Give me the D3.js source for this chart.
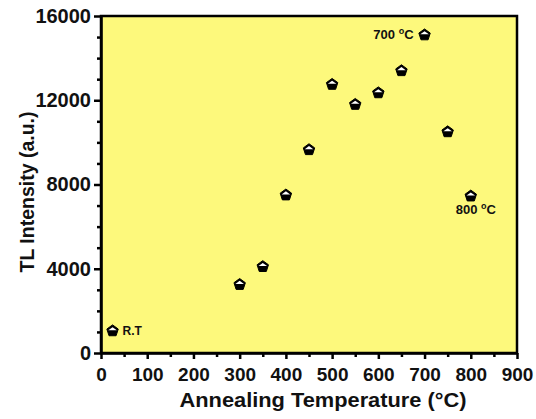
<!DOCTYPE html>
<html>
<head>
<meta charset="utf-8">
<script src="https://cdn.jsdelivr.net/npm/d3@7"></script>
<style>
  body { margin: 0; background: #fff; }
  text { font-family: "Liberation Sans", Arial, sans-serif; font-weight: bold; }
</style>
</head>
<body>
<div id="plot"></div>
<script>
// Data
const temps = [25, 300, 350, 400, 450, 500, 550, 600, 650, 700, 750, 800];
const intensity = [1050, 3250, 4100, 7500, 9650, 12750, 11800, 12350, 13400, 15100, 10500, 7450];
const xTicks = [0, 100, 200, 300, 400, 500, 600, 700, 800, 900];
const yTicks = [0, 4000, 8000, 12000, 16000];

const width = 536, height = 419;
const margin = {top: 16, right: 19, bottom: 66, left: 101};

const svg = d3.select("#plot").append("svg")
  .attr("width", width)
  .attr("height", height);

const x = d3.scaleLinear().domain([0, 900]).range([margin.left, width - margin.right]);
const y = d3.scaleLinear().domain([0, 16000]).range([height - margin.bottom, margin.top]);

// plot background
svg.append("rect")
  .attr("x", x(0)).attr("y", y(16000))
  .attr("width", x(900) - x(0)).attr("height", y(0) - y(16000))
  .attr("fill", "#fdf97c")
  .attr("stroke", "#000").attr("stroke-width", 2.5);

// minor ticks
svg.append("g")
  .attr("transform", "translate(0," + y(0) + ")")
  .call(d3.axisBottom(x).tickValues(d3.range(50, 900, 100)).tickSize(4).tickFormat(""))
  .call(g => g.select(".domain").remove())
  .selectAll("line").attr("stroke-width", 2.5);
svg.append("g")
  .attr("transform", "translate(" + x(0) + ",0)")
  .call(d3.axisLeft(y).tickValues(d3.range(1000, 16000, 1000).filter(d => d % 4000 != 0)).tickSize(4).tickFormat(""))
  .call(g => g.select(".domain").remove())
  .selectAll("line").attr("stroke-width", 2.5);

// major axes
const xAxis = svg.append("g")
  .attr("transform", "translate(0," + y(0) + ")")
  .call(d3.axisBottom(x).tickValues(xTicks).tickSize(6).tickPadding(9).tickSizeOuter(0).tickFormat(d3.format("d")));
const yAxis = svg.append("g")
  .attr("transform", "translate(" + x(0) + ",0)")
  .call(d3.axisLeft(y).tickValues(yTicks).tickSize(7).tickPadding(3).tickSizeOuter(0).tickFormat(d3.format("d")));

[xAxis, yAxis].forEach(a => {
  a.attr("font-family", null).attr("font-size", null);
  a.select(".domain").attr("stroke-width", 2.5);
  a.selectAll("line").attr("stroke-width", 2.5);
  a.selectAll("text")
    .attr("font-size", 19)
    .attr("fill", "#111");
});
yAxis.selectAll("text").attr("font-size", 20);

// axis titles
svg.append("text")
  .attr("x", 323)
  .attr("y", 407)
  .attr("text-anchor", "middle")
  .attr("font-size", 20)
  .attr("textLength", 287)
  .attr("lengthAdjust", "spacingAndGlyphs")
  .attr("fill", "#111")
  .text("Annealing Temperature (°C)");

svg.append("text")
  .attr("transform", "translate(34,192) rotate(-90)")
  .attr("text-anchor", "middle")
  .attr("font-size", 19.5)
  .attr("fill", "#111")
  .text("TL Intensity (a.u.)");

// pentagon markers
const r = 6;
const pent = d3.range(5).map(i => {
  const a = (-90 + i * 72) * Math.PI / 180;
  return [r * Math.cos(a), r * Math.sin(a)];
});
const pentPath = "M" + pent.map(p => p.join(",")).join("L") + "Z";
const roofPath = "M" + [pent[0], pent[1], pent[4]].map(p => p.join(",")).join("L") + "Z";

const pts = svg.append("g").selectAll("g")
  .data(temps.map((t, i) => ({t: t, v: intensity[i]})))
  .enter().append("g")
  .attr("transform", d => "translate(" + x(d.t) + "," + y(d.v) + ")");
pts.append("path").attr("d", pentPath).attr("fill", "#000").attr("stroke", "#000").attr("stroke-width", 1);
pts.append("path").attr("d", roofPath).attr("fill", "#fff").attr("transform", "translate(0,0.8) scale(0.75)");

// annotations
function label(txt, px, py, anchor) {
  const t = svg.append("text")
    .attr("x", px).attr("y", py)
    .attr("text-anchor", anchor)
    .attr("font-size", 13)
    .attr("fill", "#111");
  t.append("tspan").text(txt + " ");
  t.append("tspan").attr("font-size", 9).attr("dy", -5).text("o");
  t.append("tspan").attr("dy", 5).text("C");
}
label("700", x(700) - 11, y(15100) + 4, "end");
label("800", x(800) + 5, y(7450) + 18, "middle");

svg.append("text")
  .attr("x", x(25) + 10).attr("y", y(1050) + 4)
  .attr("font-size", 12)
  .attr("fill", "#111")
  .text("R.T");
</script>
</body>
</html>
